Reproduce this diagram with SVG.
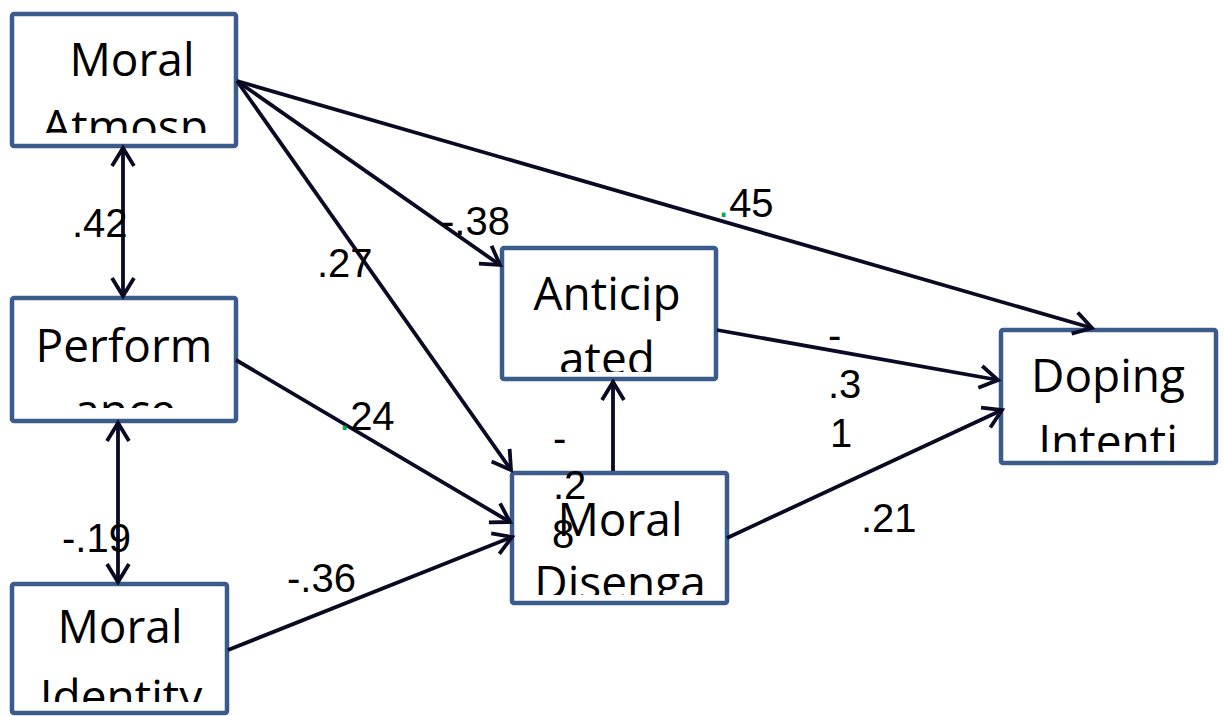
<svg xmlns="http://www.w3.org/2000/svg" width="1224" height="716" viewBox="0 0 1224 716">
<style>
.box{fill:#fff;stroke:#3b5b8b;stroke-width:4.5}
.nt{font-family:"Open Sans","Liberation Sans",sans-serif;font-size:46px;fill:#000;text-anchor:middle}
.cn{fill:none;stroke:#0a0a24;stroke-width:3.8}
.lb{font-family:"Liberation Sans",Arial,sans-serif;font-size:40px;fill:#000}
.g{fill:#00b050}
</style>
<defs>
<marker id="ah" markerUnits="userSpaceOnUse" markerWidth="30" markerHeight="30" viewBox="-22 -15 30 30" refX="0" refY="0" orient="auto-start-reverse">
<path d="M-18,-11 L0,0 L-18,11" fill="none" stroke="#0a0a24" stroke-width="3.8"/>
</marker>
<clipPath id="c1"><rect x="14" y="16" width="220" height="117"/></clipPath>
<clipPath id="c2"><rect x="14" y="300" width="220" height="108"/></clipPath>
<clipPath id="c3"><rect x="14" y="586" width="211" height="116"/></clipPath>
<clipPath id="c4"><rect x="504" y="250" width="210" height="122"/></clipPath>
<clipPath id="c5"><rect x="514" y="475" width="211" height="120"/></clipPath>
<clipPath id="c6"><rect x="1003" y="332" width="211" height="120"/></clipPath>
</defs>
<g id="moral-atmosphere">
<rect class="box" x="12" y="14" width="224" height="132" rx="2"/>
<g clip-path="url(#c1)"><text class="nt" x="132" y="76">Moral</text><text class="nt" x="125" y="143">Atmosp</text></g>
</g>
<g id="performance">
<rect class="box" x="12" y="298" width="224" height="123" rx="2"/>
<g clip-path="url(#c2)"><text class="nt" x="124" y="362">Perform</text><text class="nt" x="125" y="427">ance</text></g>
</g>
<g id="moral-identity">
<rect class="box" x="12" y="584" width="215" height="129" rx="2"/>
<g clip-path="url(#c3)"><text class="nt" x="120" y="643">Moral</text><text class="nt" x="121" y="713">Identity</text></g>
</g>
<g id="anticipated">
<rect class="box" x="502" y="248" width="214" height="131" rx="2"/>
<g clip-path="url(#c4)"><text class="nt" x="607" y="310">Anticip</text><text class="nt" x="607" y="375">ated</text></g>
</g>
<g id="moral-disengagement">
<rect class="box" x="512" y="473" width="215" height="130" rx="2"/>
<g clip-path="url(#c5)"><text class="nt" x="620" y="536">Moral</text><text class="nt" x="620" y="599">Disenga</text></g>
</g>
<g id="doping-intention">
<rect class="box" x="1001" y="330" width="215" height="133" rx="2"/>
<g clip-path="url(#c6)"><text class="nt" x="1108" y="392">Doping</text><text class="nt" x="1108" y="458">Intenti</text></g>
</g>
<g id="connectors">
<line class="cn" x1="123" y1="148" x2="123" y2="296" marker-start="url(#ah)" marker-end="url(#ah)"/>
<line class="cn" x1="118" y1="423" x2="118" y2="582" marker-start="url(#ah)" marker-end="url(#ah)"/>
<line class="cn" x1="237" y1="81" x2="1092" y2="328" marker-end="url(#ah)"/>
<line class="cn" x1="237" y1="81" x2="500" y2="265" marker-end="url(#ah)"/>
<line class="cn" x1="237" y1="81" x2="511" y2="470" marker-end="url(#ah)"/>
<line class="cn" x1="236" y1="360" x2="510" y2="522" marker-end="url(#ah)"/>
<line class="cn" x1="228" y1="650" x2="512" y2="537" marker-end="url(#ah)"/>
<line class="cn" x1="717" y1="330" x2="998" y2="380" marker-end="url(#ah)"/>
<line class="cn" x1="727" y1="538" x2="1002" y2="410" marker-end="url(#ah)"/>
<line class="cn" x1="613" y1="471" x2="613" y2="382" marker-end="url(#ah)"/>
</g>
<g id="labels">
<text class="lb" x="72" y="237">.42</text>
<text class="lb" x="718" y="217"><tspan class="g">.</tspan>45</text>
<text class="lb" x="441" y="235">-.38</text>
<text class="lb" x="317" y="277">.27</text>
<text class="lb" x="339" y="430"><tspan class="g">.</tspan>24</text>
<text class="lb" x="62" y="552">-.19</text>
<text class="lb" x="287" y="592">-.36</text>
<text class="lb" x="828" y="349">-</text>
<text class="lb" x="828" y="398">.3</text>
<text class="lb" x="830" y="447">1</text>
<text class="lb" x="553" y="452">-</text>
<text class="lb" x="553" y="499">.2</text>
<text class="lb" x="552" y="548">8</text>
<text class="lb" x="861" y="532">.21</text>
</g>
</svg>
